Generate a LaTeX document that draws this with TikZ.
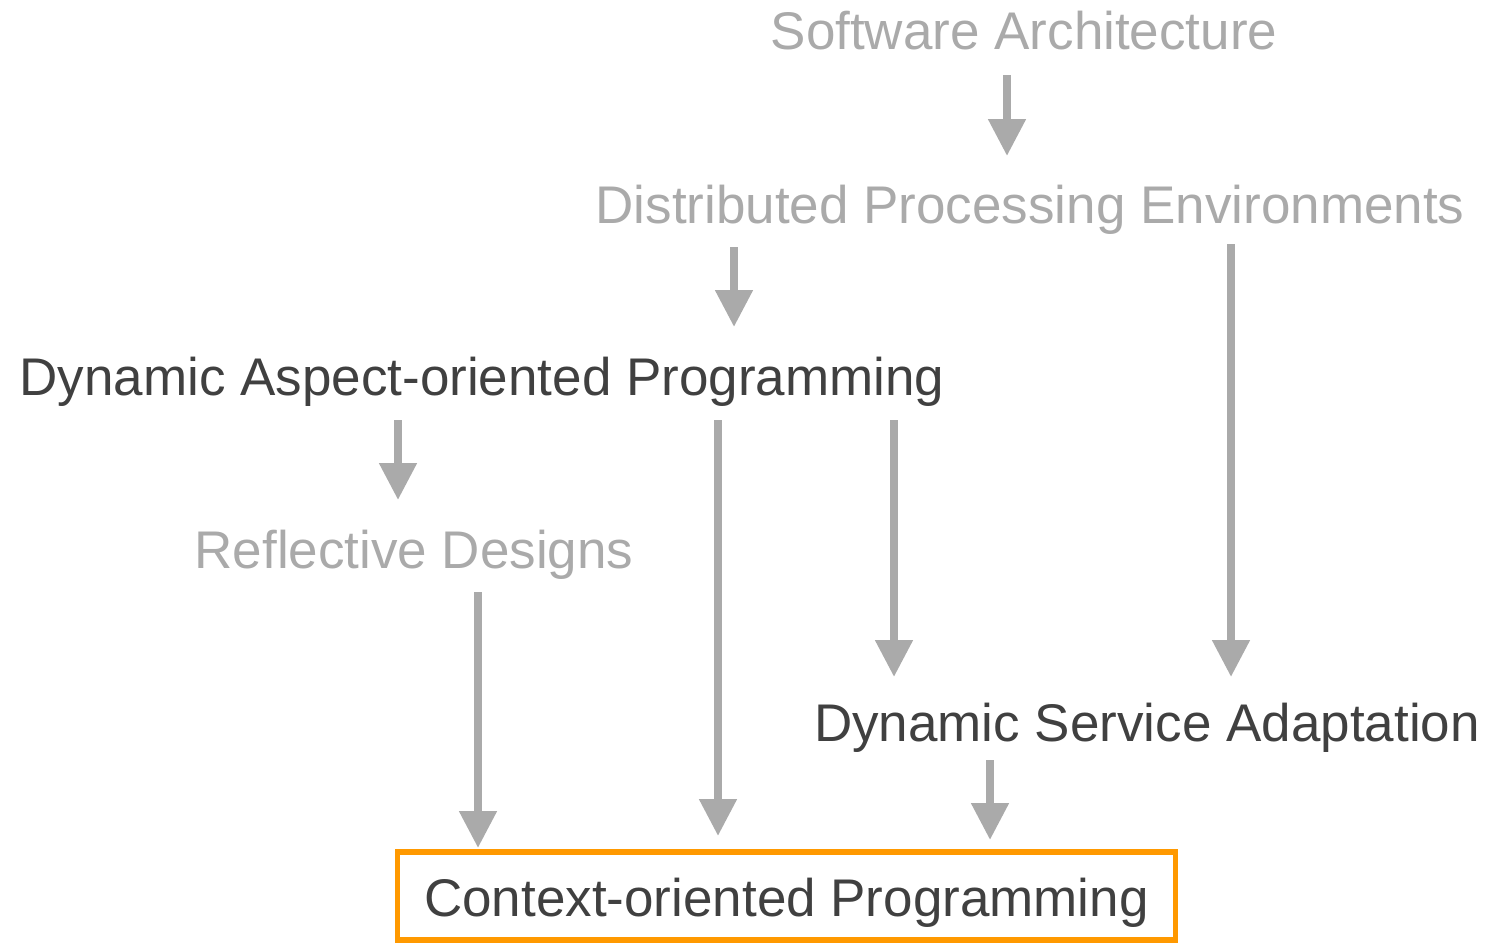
\documentclass[tikz,border=0pt]{standalone}
\usepackage{fontspec}
\setmainfont{Liberation Sans}
\usetikzlibrary{arrows.meta}
\definecolor{lgray}{HTML}{AAAAAA}
\definecolor{dgray}{HTML}{404040}
\definecolor{orng}{HTML}{FF9900}
\begin{document}
\begin{tikzpicture}[x=1pt,y=1pt,
  lbl/.style={inner sep=0pt,anchor=base,font=\fontsize{53}{60}\selectfont},
  faint/.style={lbl,text=lgray},
  strong/.style={lbl,text=dgray},
  arr/.style={draw=lgray,line width=8pt,-{Triangle[width=36pt,length=37pt]}}]
\useasboundingbox (0,0) rectangle (1488,-943);
\node[faint] (sa) at (1024,-49) {Software Architecture};
\node[faint] (dpe) at (1030,-223) {Distributed Processing Environments};
\node[strong] (daop) at (482,-395) {Dynamic Aspect-oriented Programming};
\node[faint] (rd) at (414,-568) {Reflective Designs};
\node[strong] (dsa) at (1147,-741) {Dynamic Service Adaptation};
\node[strong,draw=orng,line width=5.5pt,minimum width=778pt,minimum height=88pt,
      text height=40pt,text depth=0pt,anchor=center] (cop) at (786.5,-896) {Context-oriented Programming};
% arrow end points
\coordinate (s1) at (1007,-75);  \coordinate (e1) at (1007,-156);
\coordinate (s2) at (734,-247);  \coordinate (e2) at (734,-327);
\coordinate (s3) at (1231,-244); \coordinate (e3) at (1231,-677);
\coordinate (s4) at (398,-420);  \coordinate (e4) at (398,-500);
\coordinate (s5) at (718,-420);  \coordinate (e5) at (718,-836);
\coordinate (s6) at (894,-420);  \coordinate (e6) at (894,-677);
\coordinate (s7) at (478,-592);  \coordinate (e7) at (478,-848);
\coordinate (s8) at (990,-760);  \coordinate (e8) at (990,-840);
\draw[arr] (s1) -- (e1);
\draw[arr] (s2) -- (e2);
\draw[arr] (s3) -- (e3);
\draw[arr] (s4) -- (e4);
\draw[arr] (s5) -- (e5);
\draw[arr] (s6) -- (e6);
\draw[arr] (s7) -- (e7);
\draw[arr] (s8) -- (e8);
\end{tikzpicture}
\end{document}
